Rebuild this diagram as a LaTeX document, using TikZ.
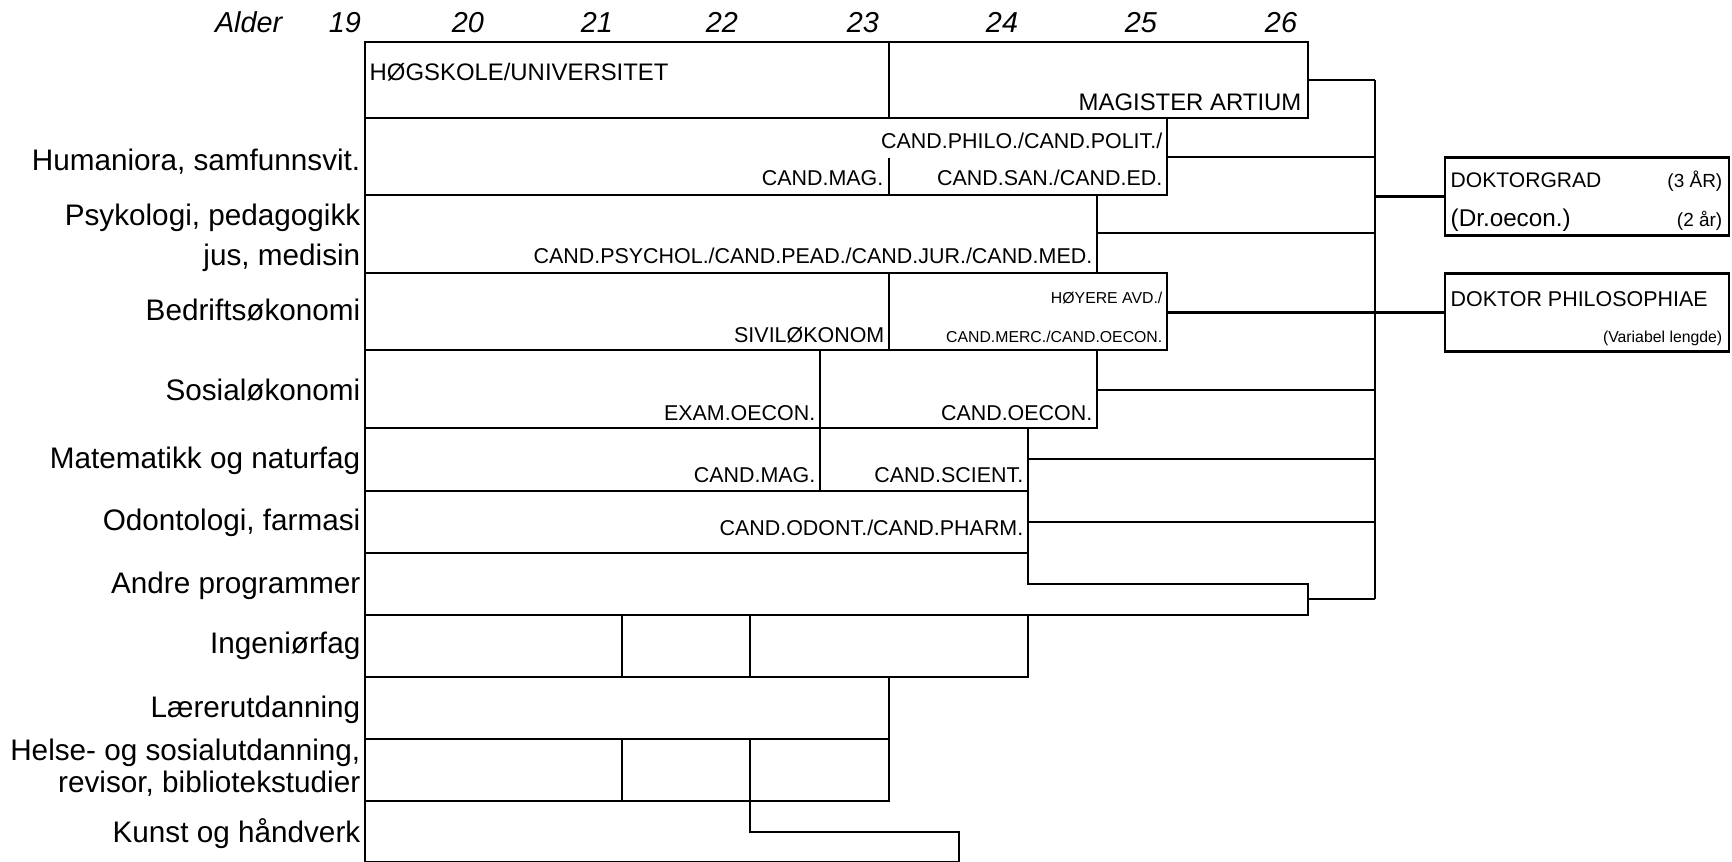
\documentclass[tikz,border=0pt]{standalone}
\usepackage{fontspec}
\setmainfont{Liberation Sans}
\usetikzlibrary{positioning}

\begin{document}
\begin{tikzpicture}[x=0.1mm, y=-0.1mm,
    rim/.style={line width=0.78pt, line join=miter},
    hair/.style={line width=0.3pt},
    midline/.style={line width=0.45pt},
    cat/.style={anchor=base east, inner sep=0pt, font=\fontsize{8.45}{9}\selectfont},
    deg/.style={anchor=base east, inner sep=0pt, font=\fontsize{6.1}{7}\selectfont},
    bigdeg/.style={deg, font=\fontsize{6.8}{7}\selectfont},
    minilbl/.style={anchor=base east, inner sep=0pt, font=\fontsize{4.5}{5}\selectfont},
    doclbl/.style={anchor=base west, inner sep=0pt, font=\fontsize{6.0}{6}\selectfont},
    age/.style={anchor=base, inner sep=0pt, font=\fontsize{8.2}{9}\selectfont\itshape},
    docbox/.style={draw, rim, minimum width=28.4mm, minimum height=7.8mm, inner sep=0pt}]
    \useasboundingbox (0,0) rectangle (1732,862);

    % age axis
    \node[age, anchor=base east] (alder) at (283,32) {Alder};
    \foreach \a/\x in {19/345,20/468,21/597,22/722,23/863,24/1002,25/1141,26/1281}
        \node[age] (age\a) at (\x,32) {\a};

    % study programmes, outline
    \draw[rim] (365,862) -- (365,42) -- (1308,42) -- (1308,118) -- (1167,118) -- (1167,195) -- (365,195);
    \draw[rim] (1097,195) -- (1097,273);
    \draw[rim] (365,273) -- (1167,273) -- (1167,350) -- (365,350);
    \draw[rim] (1097,350) -- (1097,428) -- (365,428);
    \draw[rim] (365,491) -- (1028,491);
    \draw[rim] (365,553) -- (1028,553);
    \draw[rim] (1028,428) -- (1028,584) -- (1308,584) -- (1308,615) -- (365,615);
    \draw[rim] (1028,615) -- (1028,677) -- (365,677);
    \draw[rim] (889,677) -- (889,801) -- (365,801);
    \draw[rim] (365,739) -- (889,739);
    \draw[rim] (750,739) -- (750,832) -- (959,832) -- (959,862) -- (365,862);

    % inner dividers
    \draw[hair] (365,118) -- (1167,118);
    \draw[hair] (889,42) -- (889,118);
    \draw[hair] (889,158) -- (889,195);
    \draw[midline] (889,273) -- (889,350);
    \draw[rim] (820,350) -- (820,491);
    \draw[rim] (622,615) -- (622,677);
    \draw[rim] (750,615) -- (750,677);
    \draw[rim] (622,739) -- (622,801);

    % row labels
    \node[cat] (hum) at (361,170) {Humaniora, samfunnsvit.};
    \node[cat] (psy) at (361,225) {Psykologi, pedagogikk};
    \node[cat] (jus) at (361,265) {jus, medisin};
    \node[cat] (bed) at (361,320) {Bedriftsøkonomi};
    \node[cat] (sos) at (361,400) {Sosialøkonomi};
    \node[cat] (mat) at (361,468) {Matematikk og naturfag};
    \node[cat] (odo) at (361,530) {Odontologi, farmasi};
    \node[cat] (and) at (361,593) {Andre programmer};
    \node[cat] (ing) at (361,653) {Ingeniørfag};
    \node[cat] (lae) at (361,717) {Lærerutdanning};
    \node[cat] (hel) at (361,760) {Helse- og sosialutdanning,};
    \node[cat] (rev) at (361,792) {revisor, bibliotekstudier};
    \node[cat] (kun) at (361,842) {Kunst og håndverk};

    % degrees
    \node[bigdeg, anchor=base west] (hogsk) at (369,80) {HØGSKOLE/UNIVERSITET};
    \node[bigdeg] (magart) at (1302,110) {MAGISTER ARTIUM};
    \node[deg] (philo) at (1163,148) {CAND.PHILO./CAND.POLIT./};
    \node[deg] (candmag) at (884,185) {CAND.MAG.};
    \node[deg] (candsan) at (1163,185) {CAND.SAN./CAND.ED.};
    \node[deg] (psychol) at (1093,263) {CAND.PSYCHOL./CAND.PEAD./CAND.JUR./CAND.MED.};
    \node[minilbl] (hoyere) at (1163,303) {HØYERE AVD./};
    \node[minilbl] (merc) at (1163,342) {CAND.MERC./CAND.OECON.};
    \node[deg] (sivok) at (885,342) {SIVILØKONOM};
    \node[deg] (examoec) at (816,420) {EXAM.OECON.};
    \node[deg] (candoec) at (1093,420) {CAND.OECON.};
    \node[deg] (candmag2) at (816,482) {CAND.MAG.};
    \node[deg] (scient) at (1024,482) {CAND.SCIENT.};
    \node[deg] (odont) at (1024,535) {CAND.ODONT./CAND.PHARM.};

    % doctoral degrees
    \node[docbox] (drg) at (1587,196.5) {};
    \node[docbox] (dph) at (1587,312.5) {};
    \node[doclbl] (drgtxt) at (1450,187) {DOKTORGRAD};
    \node[doclbl, font=\fontsize{6.9}{7}\selectfont] (oecon) at (1450,226) {(Dr.oecon.)};
    \node[minilbl, font=\fontsize{5.4}{6}\selectfont] (tre) at (1723,187) {(3 ÅR)};
    \node[minilbl, font=\fontsize{5.4}{6}\selectfont] (to) at (1723,226) {(2 år)};
    \node[doclbl, font=\fontsize{6.1}{7}\selectfont] (dphtxt) at (1450,306) {DOKTOR PHILOSOPHIAE};
    \node[minilbl] (varl) at (1723,342) {(Variabel lengde)};

    % bracket to the doctorates
    \coordinate (brk) at (1375,0);
    \draw[rim] (brk |- 0,80) -- (brk |- 0,599);
    \draw[rim] (1308,80) -- (brk |- 0,80);
    \draw[rim] (1167,157) -- (brk |- 0,157);
    \draw[rim] (1097,233) -- (brk |- 0,233);
    \draw[rim] (1097,390) -- (brk |- 0,390);
    \draw[rim] (1028,459) -- (brk |- 0,459);
    \draw[rim] (1028,522) -- (brk |- 0,522);
    \draw[rim] (1308,599) -- (brk |- 0,599);
    \draw[rim] (brk |- drg.west) -- (drg.west);
    \draw[rim] (1167,312.5) -- (dph.west);
\end{tikzpicture}
\end{document}
